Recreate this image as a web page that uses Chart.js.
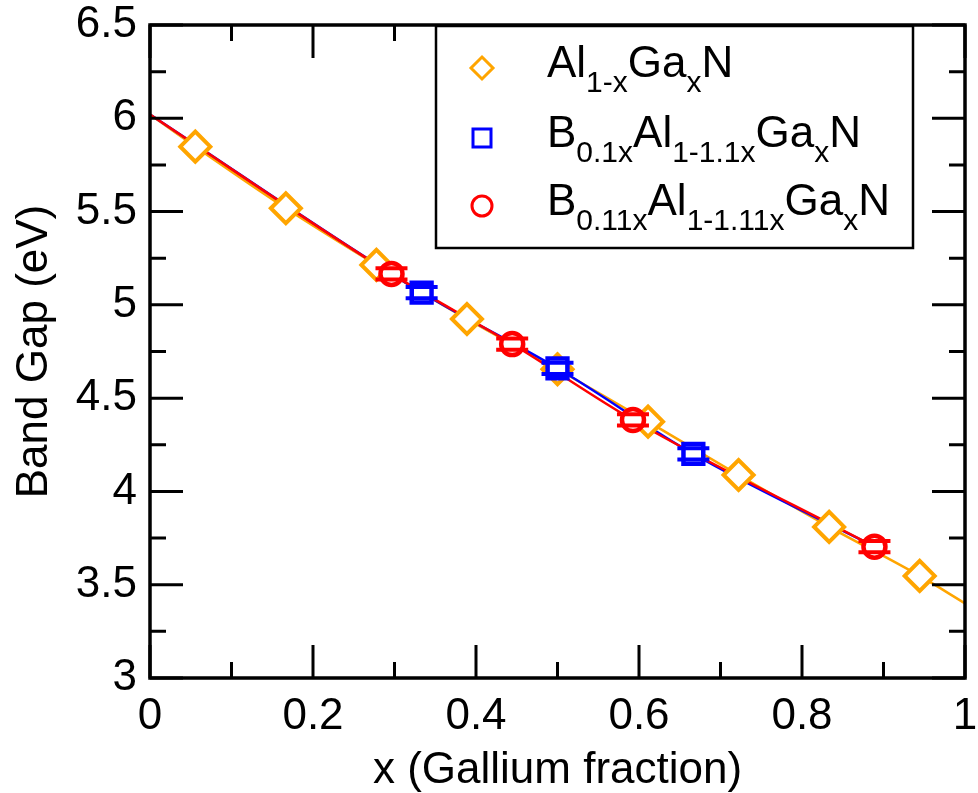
<!DOCTYPE html>
<html>
<head>
<meta charset="utf-8">
<script src="https://cdn.jsdelivr.net/npm/chart.js@4/dist/chart.umd.min.js"></script>
<style>
  body { margin: 0; background: #fff; }
  #wrap { width: 978px; height: 793px; position: relative; }
</style>
</head>
<body>
<div id="wrap"><canvas id="chart_gap"></canvas></div>
<script>
// data
var algan_x = [0.0556, 0.1667, 0.2778, 0.3889, 0.5, 0.6111, 0.7222, 0.8333, 0.9444];
var algan_y = [5.848, 5.518, 5.214, 4.924, 4.655, 4.374, 4.088, 3.810, 3.547];

var b01_x = [0.3333, 0.5, 0.6667];
var b01_y = [5.066, 4.660, 4.201];
var b01_err = [0.03, 0.03, 0.03];

var b011_x = [0.2963, 0.4444, 0.5926, 0.8889];
var b011_y = [5.166, 4.790, 4.383, 3.704];
var b011_err = [0.03, 0.03, 0.03, 0.03];

// fit lines
var fitAl_x = [0, 0.0556, 0.1667, 0.2778, 0.3889, 0.5, 0.6111, 0.7222, 0.8333, 0.9444, 1];
var fitAl_y = [6.02, 5.848, 5.518, 5.214, 4.924, 4.655, 4.374, 4.088, 3.810, 3.547, 3.40];
var fitB01_x = [0, 0.3333, 0.5, 0.6667, 0.90];
var fitB01_y = [6.02, 5.066, 4.660, 4.201, 3.68];
var fitB011_x = [0, 0.2963, 0.4444, 0.5926, 0.8889];
var fitB011_y = [6.02, 5.166, 4.790, 4.383, 3.704];

var xTicks = [0, 0.2, 0.4, 0.6, 0.8, 1];
var yTicks = [3, 3.5, 4, 4.5, 5, 5.5, 6, 6.5];

var ORANGE = '#ffa500';
var BLUE = '#0000ff';
var RED = '#ff0000';
var FONT = '"Liberation Sans", Arial, Helvetica, sans-serif';

function pts(xs, ys) {
    let out = [];
    for (let i = 0; i < xs.length; i++) {
        out.push({x: xs[i], y: ys[i]});
    }
    return out;
}

function noPad(s) {
    s.paddingLeft = 0;
    s.paddingRight = 0;
    s.paddingTop = 0;
    s.paddingBottom = 0;
}

// inward ticks + frame
var framePlugin = {
    id: 'frame',
    afterDatasetsDraw(chart) {
        let ctx = chart.ctx;
        let a = chart.chartArea;
        let xs = chart.scales.x, ys = chart.scales.y;
        ctx.save();
        ctx.strokeStyle = '#000';
        ctx.lineWidth = 3;
        ctx.beginPath();
        for (let v = 0; v <= 1.0001; v += 0.1) {
            let major = Math.abs(v * 5 - Math.round(v * 5)) < 1e-6;
            let len = major ? 33 : 16;
            let px = xs.getPixelForValue(v);
            ctx.moveTo(px, a.bottom); ctx.lineTo(px, a.bottom - len);
            ctx.moveTo(px, a.top); ctx.lineTo(px, a.top + len);
        }
        for (let v = 3; v <= 6.5001; v += 0.25) {
            let major = Math.abs(v * 2 - Math.round(v * 2)) < 1e-6;
            let len = major ? 33 : 16;
            let py = ys.getPixelForValue(v);
            ctx.moveTo(a.left, py); ctx.lineTo(a.left + len, py);
            ctx.moveTo(a.right, py); ctx.lineTo(a.right - len, py);
        }
        ctx.stroke();
        ctx.lineWidth = 3.5;
        ctx.strokeRect(a.left, a.top, a.right - a.left, a.bottom - a.top);
        ctx.restore();
    }
};

// error bar caps
var errPlugin = {
    id: 'errbars',
    afterDatasetsDraw(chart) {
        let ctx = chart.ctx;
        let ys = chart.scales.y;
        ctx.save();
        chart.data.datasets.forEach((ds, i) => {
            if (!ds.errors) return;
            let meta = chart.getDatasetMeta(i);
            ctx.strokeStyle = ds.borderColor;
            ctx.lineWidth = 4;
            meta.data.forEach((el, k) => {
                let v = ds.data[k].y, e = ds.errors[k];
                let top = ys.getPixelForValue(v + e);
                let bot = ys.getPixelForValue(v - e);
                ctx.beginPath();
                ctx.moveTo(el.x - 16, top); ctx.lineTo(el.x + 16, top);
                ctx.moveTo(el.x - 16, bot); ctx.lineTo(el.x + 16, bot);
                ctx.stroke();
            });
        });
        ctx.restore();
    }
};

// legend with subscripts
var legendRows = [
    {color: ORANGE, style: 'diamond', parts: [['Al'], ['1-x', 1], ['Ga'], ['x', 1], ['N']]},
    {color: BLUE, style: 'square', parts: [['B'], ['0.1x', 1], ['Al'], ['1-1.1x', 1], ['Ga'], ['x', 1], ['N']]},
    {color: RED, style: 'circle', parts: [['B'], ['0.11x', 1], ['Al'], ['1-1.11x', 1], ['Ga'], ['x', 1], ['N']]}
];

var legendPlugin = {
    id: 'subLegend',
    afterDraw(chart) {
        let ctx = chart.ctx;
        ctx.save();
        ctx.fillStyle = '#fff';
        ctx.fillRect(436, 26, 477, 222);
        ctx.strokeStyle = '#000';
        ctx.lineWidth = 2.5;
        ctx.strokeRect(436, 26, 477, 222);
        let rowsY = [77, 147, 215];
        legendRows.forEach((r, i) => {
            let by = rowsY[i];
            let my = by - 9;
            ctx.strokeStyle = r.color;
            ctx.lineWidth = 3;
            ctx.beginPath();
            if (r.style === 'diamond') {
                ctx.moveTo(482, my - 11); ctx.lineTo(493, my); ctx.lineTo(482, my + 11); ctx.lineTo(471, my); ctx.closePath();
            } else if (r.style === 'square') {
                ctx.rect(473, my - 9, 18, 18);
            } else {
                ctx.arc(482, my, 10, 0, Math.PI * 2);
            }
            ctx.stroke();
            ctx.fillStyle = '#000';
            ctx.textBaseline = 'alphabetic';
            ctx.textAlign = 'left';
            let x = 547;
            r.parts.forEach(p => {
                let sub = p[1] === 1;
                ctx.font = (sub ? 30 : 44) + 'px ' + FONT;
                ctx.fillText(p[0], x, by + (sub ? 15 : 0));
                x += ctx.measureText(p[0]).width;
            });
        });
        ctx.restore();
    }
};

new Chart(document.getElementById('chart_gap').getContext('2d'), {
    type: 'scatter',
    data: {
        datasets: [
            {
                label: 'B0.11xAl1-1.11xGaxN',
                data: pts(b011_x, b011_y),
                errors: b011_err,
                borderColor: RED,
                backgroundColor: '#fff',
                pointStyle: 'circle',
                pointRadius: 11,
                borderWidth: 4.5,
                order: 0
            },
            {
                label: 'B0.1xAl1-1.1xGaxN',
                data: pts(b01_x, b01_y),
                errors: b01_err,
                borderColor: BLUE,
                backgroundColor: '#fff',
                pointStyle: 'rect',
                pointRadius: 14,
                borderWidth: 4.5,
                order: 1
            },
            {
                label: 'Al1-xGaxN',
                data: pts(algan_x, algan_y),
                borderColor: ORANGE,
                backgroundColor: '#fff',
                pointStyle: 'rectRot',
                pointRadius: 15,
                borderWidth: 4,
                order: 2
            },
            {
                label: 'fit B0.11x',
                data: pts(fitB011_x, fitB011_y),
                showLine: true,
                borderColor: RED,
                borderWidth: 2.5,
                pointRadius: 0,
                cubicInterpolationMode: 'monotone',
                order: 3
            },
            {
                label: 'fit B0.1x',
                data: pts(fitB01_x, fitB01_y),
                showLine: true,
                borderColor: BLUE,
                borderWidth: 2.5,
                pointRadius: 0,
                cubicInterpolationMode: 'monotone',
                order: 4
            },
            {
                label: 'fit AlGaN',
                data: pts(fitAl_x, fitAl_y),
                showLine: true,
                borderColor: ORANGE,
                borderWidth: 2.5,
                pointRadius: 0,
                cubicInterpolationMode: 'monotone',
                order: 5
            }
        ]
    },
    options: {
        responsive: true,
        maintainAspectRatio: false,
        animation: false,
        layout: { autoPadding: false, padding: { left: 0, top: 25, right: 13, bottom: 0 } },
        plugins: {
            legend: { display: false },
            tooltip: { enabled: false }
        },
        scales: {
            x: {
                type: 'linear',
                min: 0, max: 1,
                afterFit: (s) => { s.height = 115; noPad(s); },
                afterBuildTicks: (s) => { s.ticks = xTicks.map(v => ({value: v})); },
                grid: { display: false, drawTicks: false },
                border: { display: false },
                ticks: {
                    color: '#000',
                    padding: 12,
                    maxRotation: 0,
                    callback: (v) => String(v),
                    font: { family: FONT, size: 44 }
                },
                title: {
                    display: true,
                    text: 'x (Gallium fraction)',
                    color: '#000',
                    padding: { top: 0, bottom: 0 },
                    font: { family: FONT, size: 44, lineHeight: 1.0 }
                }
            },
            y: {
                type: 'linear',
                min: 3, max: 6.5,
                afterFit: (s) => { s.width = 150; noPad(s); },
                afterBuildTicks: (s) => { s.ticks = yTicks.map(v => ({value: v})); },
                grid: { display: false, drawTicks: false },
                border: { display: false },
                ticks: {
                    color: '#000',
                    padding: 13,
                    callback: (v) => String(v),
                    font: { family: FONT, size: 44 }
                },
                title: {
                    display: true,
                    text: 'Band Gap (eV)',
                    color: '#000',
                    padding: { top: 8, bottom: 0 },
                    font: { family: FONT, size: 44 }
                }
            }
        }
    },
    plugins: [framePlugin, errPlugin, legendPlugin]
});
</script>
</body>
</html>
